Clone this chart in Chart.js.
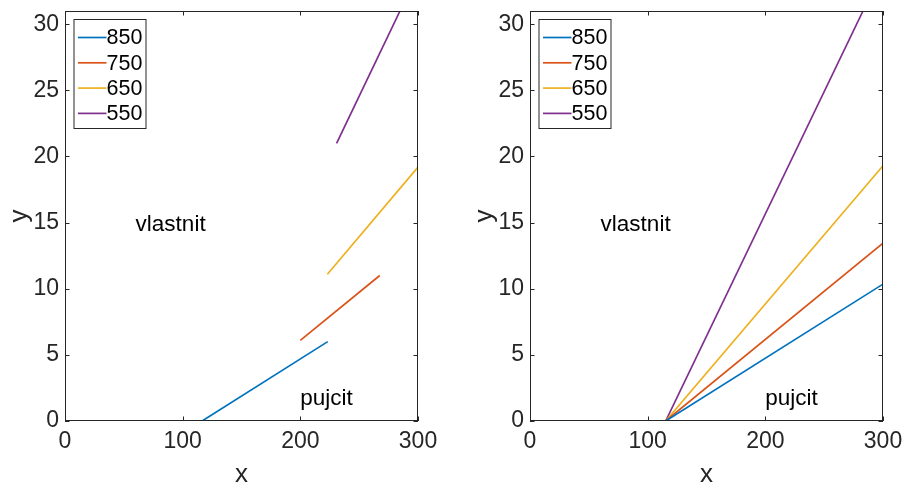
<!DOCTYPE html>
<html>
<head>
<meta charset="utf-8">
<script src="https://cdn.jsdelivr.net/npm/chart.js@4.4.0/dist/chart.umd.min.js"></script>
<style>
    body { margin: 0; background: #fff; }
    .box { position: absolute; top: 0; height: 489px; }
    #boxLeft { left: 0; width: 453px; }
    #boxRight { left: 465px; width: 440px; }
</style>
</head>
<body>
<div class="box" id="boxLeft"><canvas id="chartLeft"></canvas></div>
<div class="box" id="boxRight"><canvas id="chartRight"></canvas></div>
<script>
// Dados
const seriesLabels = ['850', '750', '650', '550']
const seriesColors = ['#0072BD', '#D95319', '#EDB120', '#7E2F8E']

// left plot: pieces of each line
const leftX = [[116.5, 223.3], [200, 267.5], [223, 300], [230.8, 284.7]]
const leftY = [[0, 6], [6.1, 11], [11.1, 19.2], [21, 31]]

// right plot: full lines from the same start
const rightX = [[115.3, 300], [115.3, 300], [115.3, 300], [115.3, 283]]
const rightY = [[0, 10.35], [0, 13.45], [0, 19.3], [0, 31]]

const xTicks = [0, 100, 200, 300]
const yTicks = [0, 5, 10, 15, 20, 25, 30]

const textLabels = ['vlastnit', 'pujcit']
const textX = [60, 200]
const textY = [14.8, 1.7]

const fontFamily = "'Liberation Sans', Arial, Helvetica, sans-serif"
const axisColor = '#262626'

function makeDatasets(xs, ys) {
    let sets = []
    for (let i = 0; i < seriesLabels.length; i++) {
        sets.push({
            label: seriesLabels[i],
            data: xs[i].map((x, j) => ({ x: x, y: ys[i][j] })),
            borderColor: seriesColors[i],
            backgroundColor: seriesColors[i],
            borderWidth: 1.7,
            pointRadius: 0,
            tension: 0
        })
    }
    return sets
}

// no extra padding from the scales, the layout padding decides the box
function zeroPad(s) {
    s.paddingTop = 0
    s.paddingBottom = 0
    s.paddingLeft = 0
    s.paddingRight = 0
}

// box, inner ticks, text, legend (matlab style)
const matlabPlugin = {
    id: 'matlabStuff',
    afterDatasetsDraw(chart) {
        const c = chart.ctx
        const a = chart.chartArea
        const sx = chart.scales.x
        const sy = chart.scales.y
        c.save()
        c.strokeStyle = axisColor
        c.lineWidth = 1
        c.strokeRect(a.left + 0.5, a.top + 0.5, a.right - a.left - 1, a.bottom - a.top - 1)
        const tl = 4.5
        c.beginPath()
        xTicks.forEach(v => {
            const px = Math.round(sx.getPixelForValue(v)) + 0.5
            c.moveTo(px, a.bottom); c.lineTo(px, a.bottom - tl)
            c.moveTo(px, a.top); c.lineTo(px, a.top + tl)
        })
        yTicks.forEach(v => {
            const py = Math.round(sy.getPixelForValue(v)) + 0.5
            c.moveTo(a.left, py); c.lineTo(a.left + tl, py)
            c.moveTo(a.right, py); c.lineTo(a.right - tl, py)
        })
        c.stroke()

        // text labels
        c.fillStyle = '#000'
        c.font = '22.5px ' + fontFamily
        c.textAlign = 'left'
        c.textBaseline = 'middle'
        for (let i = 0; i < textLabels.length; i++) {
            c.fillText(textLabels[i], sx.getPixelForValue(textX[i]), sy.getPixelForValue(textY[i]))
        }

        // legend
        const lx = a.left + 8.5
        const ly = a.top + 8
        const lw = 72
        const lh = 109
        c.fillStyle = '#fff'
        c.fillRect(lx, ly, lw, lh)
        c.strokeStyle = axisColor
        c.lineWidth = 1
        c.strokeRect(lx + 0.5, ly + 0.5, lw, lh)
        c.font = '21.5px ' + fontFamily
        chart.data.datasets.forEach((ds, i) => {
            const ry = ly + 18.5 + i * 25.3
            c.strokeStyle = ds.borderColor
            c.lineWidth = 1.7
            c.beginPath()
            c.moveTo(lx + 4.5, ry)
            c.lineTo(lx + 33, ry)
            c.stroke()
            c.fillStyle = '#000'
            c.fillText(ds.label, lx + 33, ry + 1)
        })
        c.restore()
    }
}

function makeChart(id, xs, ys, padRight) {
    const ctx = document.getElementById(id)
    return new Chart(ctx, {
        type: 'line',
        data: { datasets: makeDatasets(xs, ys) },
        options: {
            responsive: true,
            maintainAspectRatio: false,
            animation: false,
            layout: { padding: { left: 0, right: padRight, top: 11, bottom: 0 } },
            plugins: { legend: { display: false }, tooltip: { enabled: false } },
            scales: {
                x: {
                    type: 'linear',
                    min: 0,
                    max: 300,
                    afterFit: s => { s.height = 68; zeroPad(s) },
                    afterBuildTicks: s => { s.ticks = xTicks.map(v => ({ value: v })) },
                    grid: { display: false, drawTicks: false, tickLength: 0 },
                    border: { display: false },
                    ticks: {
                        color: axisColor,
                        padding: 9,
                        maxRotation: 0,
                        font: { family: fontFamily, size: 23, lineHeight: 1 }
                    },
                    title: {
                        display: true,
                        text: 'x',
                        color: axisColor,
                        padding: { top: 0, bottom: -1 },
                        font: { family: fontFamily, size: 26 }
                    }
                },
                y: {
                    type: 'linear',
                    min: 0,
                    max: 31,
                    afterFit: s => { s.width = 65; zeroPad(s) },
                    afterBuildTicks: s => { s.ticks = yTicks.map(v => ({ value: v })) },
                    grid: { display: false, drawTicks: false, tickLength: 0 },
                    border: { display: false },
                    ticks: {
                        color: axisColor,
                        padding: 6,
                        font: { family: fontFamily, size: 23, lineHeight: 1 }
                    },
                    title: {
                        display: true,
                        text: 'y',
                        color: axisColor,
                        padding: { top: 4, bottom: 0 },
                        font: { family: fontFamily, size: 26 }
                    }
                }
            }
        },
        plugins: [matlabPlugin]
    })
}

makeChart('chartLeft', leftX, leftY, 35)
makeChart('chartRight', rightX, rightY, 22)
</script>
</body>
</html>
